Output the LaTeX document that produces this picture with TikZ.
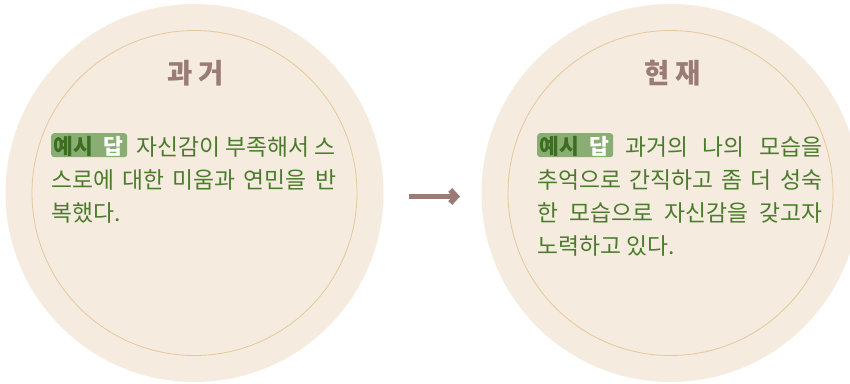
\documentclass[tikz,border=0pt]{standalone}
\usepackage{fontspec}
\usetikzlibrary{arrows.meta}
\newfontfamily\kr{Noto Sans CJK KR}
\definecolor{bgc}{HTML}{F5EBDE}
\definecolor{ringc}{HTML}{E6C89C}
\definecolor{txtc}{HTML}{4A7C2C}
\definecolor{ttlc}{HTML}{9A7B76}
\definecolor{badgec}{HTML}{8AAD74}
\definecolor{badgedk}{HTML}{3B6E1F}
\tikzset{
  outer/.style={circle, fill=bgc, draw=none, minimum size=378pt, inner sep=0pt},
  inner/.style={circle, fill=bgc, draw=ringc, line width=0.8pt, minimum size=325pt, inner sep=0pt},
  ttl/.style={font=\kr\fontsize{27.5}{30}\selectfont\bfseries, text=ttlc, inner sep=0pt},
  line/.style={font=\kr\fontsize{22.8}{25}\selectfont, text=txtc, inner sep=0pt, anchor=base west},
  badge/.style={fill=badgec, rounded corners=3pt, minimum width=76pt, minimum height=24pt, inner sep=0pt, anchor=north west},
  badgetxt/.style={font=\kr\fontsize{21.5}{24}\selectfont\bfseries, inner sep=0pt, anchor=base west},
  arr/.style={draw=ttlc, line width=5.5pt, -{Straight Barb[length=6pt,width=13pt]}}
}
\begin{document}
\begin{tikzpicture}[x=1pt,y=-1pt]
\useasboundingbox (0,0) rectangle (850,383);
% left circle
\node[outer] (lo) at (194.5,193) {};
\node[inner] (li) at (194.5,193) {};
\node[ttl] (lt) at (195.5,73) {과 거};
\node[badge] (lb) at (51,133) {};
\node[badgetxt, text=badgedk] (lb1) at (53.5,154) {예시};
\node[badgetxt, text=white] (lb2) at (103,154) {답};
\node[line] (l1) at (136,155) {\makebox[199pt][s]{자신감이 부족해서 스}};
\node[line] (l2) at (51,188) {\makebox[285pt][s]{스로에 대한 미움과 연민을 반}};
\node[line] (l3) at (51,221) {복했다.};
% right circle
\node[outer] (ro) at (670.5,193) {};
\node[inner] (ri) at (670.5,193) {};
\node[ttl] (rt) at (672.5,73) {현 재};
\node[badge] (rb) at (537,133) {};
\node[badgetxt, text=badgedk] (rb1) at (539.5,154) {예시};
\node[badgetxt, text=white] (rb2) at (589,154) {답};
\node[line] (r1) at (625,155) {\makebox[197pt][s]{과거의 나의 모습을}};
\node[line] (r2) at (537,188) {\makebox[285pt][s]{추억으로 간직하고 좀 더 성숙}};
\node[line] (r3) at (537,221) {\makebox[285pt][s]{한 모습으로 자신감을 갖고자}};
\node[line] (r4) at (537,254) {노력하고 있다.};
% arrow
\coordinate (a0) at (409,196.5);
\coordinate (a1) at (460,196.5);
\draw[arr] (a0) -- (a1);
\end{tikzpicture}
\end{document}
